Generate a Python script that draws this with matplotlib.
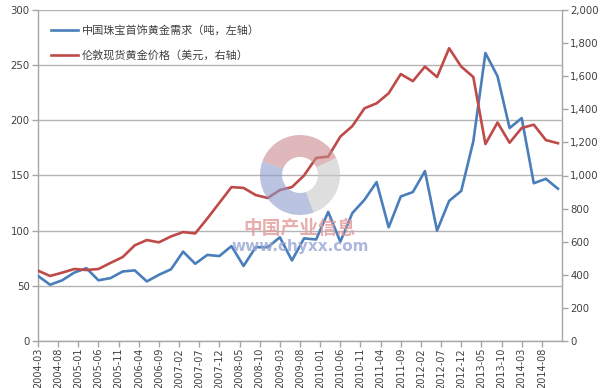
import numpy as np
import matplotlib
matplotlib.use("Agg")
import matplotlib.pyplot as plt
from matplotlib.patches import Wedge
from matplotlib.ticker import FuncFormatter

plt.rcParams["font.family"] = ["Noto Sans CJK SC", "DejaVu Sans"]

# quarterly data, 2004Q1 .. 2014Q4 (x in months from 2004-03)
months = np.arange(44) * 3
demand = [59, 51, 55, 62, 66, 55, 57, 63, 64, 54, 60, 65, 81, 70, 78, 77, 86, 68, 85, 85,
          94, 73, 93, 92, 117, 90, 116, 128, 144, 103, 131, 135, 154, 100, 127, 136,
          181, 261, 240, 193, 202, 143, 147, 138]
price = [425, 393, 413, 435, 429, 435, 472, 507, 578, 610, 596, 632, 658, 650, 740, 835,
         930, 925, 882, 864, 912, 930, 1000, 1106, 1114, 1235, 1299, 1406, 1436, 1497,
         1613, 1570, 1658, 1595, 1769, 1658, 1595, 1190, 1320, 1198, 1287, 1307, 1214, 1195]

tick_labels = ["2004-03", "2004-08", "2005-01", "2005-06", "2005-11", "2006-04", "2006-09",
               "2007-02", "2007-07", "2007-12", "2008-05", "2008-10", "2009-03", "2009-08",
               "2010-01", "2010-06", "2010-11", "2011-04", "2011-09", "2012-02", "2012-07",
               "2012-12", "2013-05", "2013-10", "2014-03", "2014-08"]
tick_pos = np.arange(len(tick_labels)) * 5

label_blue = "中国珠宝首饰黄金需求（吨，左轴）"
label_red = "伦敦现货黄金价格（美元，右轴）"

blue = "#4a7ebb"
red = "#be4b48"
axis_gray = "#a6a6a6"
text_col = "#404040"

fig = plt.figure(figsize=(6, 3.88), dpi=100)
ax = fig.add_axes([38 / 600, 1 - 341 / 388, 524 / 600, 331 / 388])
ax2 = ax.twinx()

# watermark logo + text
cx, cy = 3.00, (388 - 175) / 100
for t1, t2, c in [(25, 160, "#c98a8c"), (160, 290, "#8c9bcc"), (290, 385, "#c8c8c8")]:
    w = Wedge((cx, cy), 0.40, t1, t2, width=0.22, transform=fig.dpi_scale_trans,
              facecolor=c, edgecolor="none", alpha=0.6, zorder=0)
    fig.patches.append(w)
fig.text(300 / 600, 1 - 228 / 388, "中国产业信息", ha="center", va="center",
         fontsize=13.5, fontweight="bold", color="#e29a9a", alpha=0.8, zorder=1)
fig.text(300 / 600, 1 - 246 / 388, "www.chyxx.com", ha="center", va="center",
         fontsize=11, fontweight="bold", color="#9aa6d4", alpha=0.8, zorder=1,
         family="DejaVu Sans")

ax.patch.set_alpha(0)
ax2.patch.set_alpha(0)

l1, = ax.plot(months, demand, color=blue, lw=1.9, label=label_blue, zorder=3)
l2, = ax2.plot(months, price, color=red, lw=1.9, label=label_red, zorder=3)

ax.set_xlim(0, 130)
ax.set_ylim(0, 300)
ax2.set_ylim(0, 2000)
ax.set_yticks(np.arange(0, 301, 50))
ax2.set_yticks(np.arange(0, 2001, 200))
ax2.yaxis.set_major_formatter(FuncFormatter(lambda v, p: f"{int(v):,}"))

ax.set_xticks(tick_pos)
ax.set_xticklabels(tick_labels, rotation=90, fontsize=7, color=text_col,
                   family="DejaVu Sans")

ax.grid(axis="y", color="#b4b4b4", lw=1.0)
ax.set_axisbelow(True)

for a in (ax, ax2):
    a.spines["top"].set_visible(False)
    for s in ("left", "right", "bottom"):
        a.spines[s].set_color(axis_gray)
        a.spines[s].set_linewidth(1.0)
    a.tick_params(axis="y", colors=axis_gray, length=4, width=1.0, pad=2,
                  labelsize=7.3, labelcolor=text_col)
ax.tick_params(axis="x", colors=axis_gray, length=4, width=1.0, pad=1,
               labelcolor=text_col)
ax.spines["right"].set_visible(False)
ax2.spines["left"].set_visible(False)
ax2.spines["bottom"].set_visible(False)
for lab in ax.get_yticklabels() + ax2.get_yticklabels():
    lab.set_family("DejaVu Sans")

leg = ax.legend(handles=[l1, l2], loc="upper left", bbox_to_anchor=(0.005, 0.985),
                frameon=False, fontsize=8, labelspacing=1.25, handlelength=2.5,
                handletextpad=0.3)
for t in leg.get_texts():
    t.set_color(text_col)

fig.savefig("out.png", dpi=100)
